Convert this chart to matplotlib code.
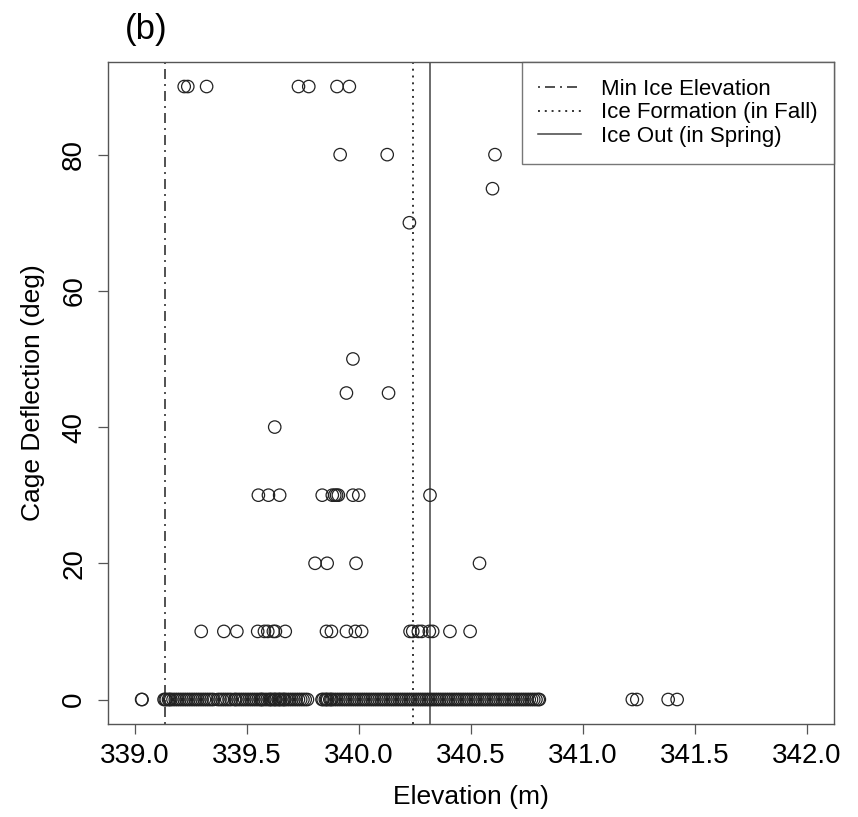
import numpy as np
import matplotlib.pyplot as plt

plt.rcParams['font.family'] = ['Liberation Sans', 'DejaVu Sans']

# elevation (m) / cage deflection (deg), grouped by deflection level
elev_90 = [339.22, 339.236, 339.32, 339.73, 339.776, 339.902, 339.957]
elev_80 = [339.916, 340.126, 340.607]
elev_75 = [340.596]
elev_70 = [340.225]
elev_50 = [339.973]
elev_45 = [339.944, 340.132]
elev_40 = [339.624]
elev_30 = [339.551, 339.596, 339.646, 339.836, 339.881, 339.892, 339.90, 339.908,
           339.973, 339.999, 340.317]
elev_20 = [339.804, 339.858, 339.987, 340.538]
elev_10 = [339.296, 339.397, 339.455, 339.548, 339.578, 339.593, 339.618, 339.627,
           339.671, 339.855, 339.877, 339.944, 339.984, 340.012, 340.228, 340.24,
           340.265, 340.28, 340.314, 340.329, 340.406, 340.496]
elev_0 = [339.03, 339.032,
          339.13, 339.135, 339.14, 339.15, 339.155, 339.16, 339.17, 339.18, 339.19,
          339.20, 339.21, 339.22, 339.23, 339.24, 339.25, 339.26, 339.27, 339.28,
          339.29, 339.30, 339.31, 339.32, 339.33, 339.34, 339.35, 339.37, 339.38,
          339.39, 339.40, 339.41, 339.42, 339.43, 339.445, 339.45, 339.46, 339.47,
          339.48, 339.49, 339.50, 339.51, 339.52, 339.53, 339.54, 339.55, 339.56,
          339.565, 339.57, 339.58, 339.59, 339.60, 339.605, 339.61, 339.62, 339.625,
          339.63, 339.64, 339.645, 339.65, 339.66, 339.665, 339.67, 339.68, 339.69,
          339.70, 339.71, 339.72, 339.73, 339.74, 339.75, 339.76, 339.77,
          339.835, 339.84, 339.85, 339.855, 339.86, 339.87, 339.875, 339.88, 339.89,
          339.90, 339.91, 339.92, 339.93, 339.94, 339.95, 339.96, 339.97, 339.98,
          339.99, 340.00, 340.01, 340.02, 340.03, 340.04, 340.05, 340.06, 340.07,
          340.08, 340.09, 340.10, 340.11, 340.12, 340.13, 340.14, 340.15, 340.16,
          340.17, 340.18, 340.19, 340.20, 340.21, 340.22, 340.23, 340.24, 340.25,
          340.26, 340.27, 340.28, 340.29, 340.30, 340.31, 340.32, 340.33, 340.34,
          340.35, 340.36, 340.37, 340.38, 340.39, 340.40, 340.41, 340.42, 340.43,
          340.44, 340.45, 340.46, 340.47, 340.48, 340.49, 340.50, 340.51, 340.52,
          340.53, 340.54, 340.55, 340.56, 340.57, 340.58, 340.59, 340.60, 340.61,
          340.62, 340.63, 340.64, 340.65, 340.66, 340.67, 340.68, 340.69, 340.70,
          340.71, 340.72, 340.73, 340.74, 340.75, 340.76, 340.77, 340.78, 340.79,
          340.80, 340.805,
          341.22, 341.24, 341.38, 341.42]

groups = {90: elev_90, 80: elev_80, 75: elev_75, 70: elev_70, 50: elev_50,
          45: elev_45, 40: elev_40, 30: elev_30, 20: elev_20, 10: elev_10, 0: elev_0}

min_ice = 339.133
ice_formation = 340.24
ice_out = 340.316

x_ticks = [339.0, 339.5, 340.0, 340.5, 341.0, 341.5, 342.0]
y_ticks = [0, 20, 40, 60, 80]

fig = plt.figure(figsize=(8.58, 8.17), dpi=100)
ax = fig.add_axes([0.1259, 0.1138, 0.8461, 0.8103])

x = []
y = []
for defl, el in groups.items():
    x += el
    y += [defl] * len(el)

ax.scatter(x, y, s=80, facecolors='none', edgecolors='#222222', linewidths=0.9, zorder=3)

ax.axvline(min_ice, color='#333333', lw=1.2, dashes=(1.2, 3, 6, 3), label='Min Ice Elevation')
ax.axvline(ice_formation, color='#333333', lw=1.4, dashes=(1, 2.5), label='Ice Formation (in Fall)')
ax.axvline(ice_out, color='#444444', lw=1.1, label='Ice Out (in Spring)')

ax.set_xlim(338.88, 342.12)
ax.set_ylim(-3.6, 93.6)
ax.set_xticks(x_ticks)
ax.set_xticklabels(['%.1f' % v for v in x_ticks])
ax.set_yticks(y_ticks)
ax.set_yticklabels([str(v) for v in y_ticks], rotation=90, va='center')

ax.tick_params(axis='both', labelsize=20, length=7, width=0.9, color='#555555')
ax.tick_params(axis='x', pad=7)
ax.tick_params(axis='y', pad=8)
for s in ax.spines.values():
    s.set_color('#555555')
    s.set_linewidth(1.0)

ax.set_xlabel('Elevation (m)', fontsize=19, labelpad=11)
ax.set_ylabel('Cage Deflection (deg)', fontsize=19, labelpad=12)

leg = ax.legend(loc='upper right', bbox_to_anchor=(1, 1), fontsize=16, frameon=True,
                fancybox=False, borderaxespad=0, handlelength=1.9, handletextpad=0.9,
                labelspacing=0.12, borderpad=0.75)
leg.get_frame().set_edgecolor('#555555')
leg.get_frame().set_linewidth(1.0)

fig.text(125 / 858, 1 - 30 / 817, '(b)', fontsize=25, ha='left', va='center')

fig.savefig('out.png', dpi=100)
